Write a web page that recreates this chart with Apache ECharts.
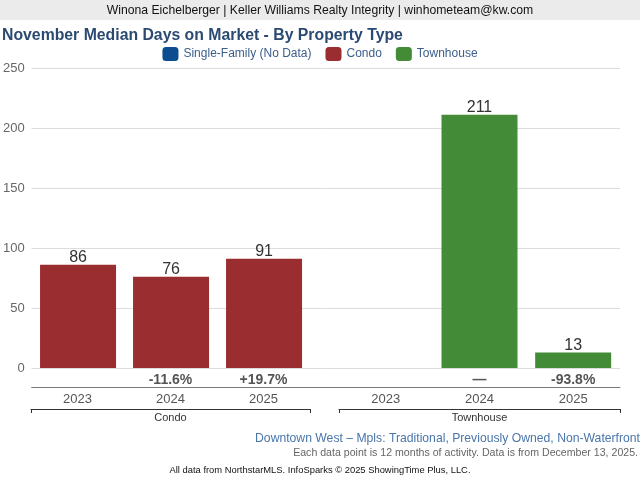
<!DOCTYPE html>
<html>
<head>
<meta charset="utf-8">
<script src="https://cdn.jsdelivr.net/npm/echarts@6/dist/echarts.min.js"></script>
<style>
html,body{margin:0;padding:0;background:#fff;}
#c{width:640px;height:480px;}
</style>
</head>
<body>
<div id="c"></div>
<script>
var years = ['2023', '2024', '2025'];
var condoValues = [86, 76, 91];
var townhouseValues = [null, 211, 13];
var condoPct = ['', '-11.6%', '+19.7%'];
var townhousePct = ['', '\u2014', '-93.8%'];
var yTicks = { min: 0, max: 250, interval: 50 };

var FONT = '"Liberation Sans", Arial, Helvetica, sans-serif';
var chart = echarts.init(document.getElementById('c'), null, { renderer: 'canvas' });

var valueLabel = { show: true, position: 'top', distance: -1, fontSize: 16, color: '#333', fontFamily: FONT };

var option = {
  animation: false,
  backgroundColor: '#fff',
  textStyle: { fontFamily: FONT },
  graphic: [
    { type: 'rect', shape: { x: 0, y: 0, width: 640, height: 20 }, style: { fill: '#ebebeb' }, z: 0 }
  ],
  title: [
    { text: 'Winona Eichelberger | Keller Williams Realty Integrity | winhometeam@kw.com', left: 'center', top: 5, padding: 0,
      textStyle: { fontSize: 12.2, fontWeight: 'normal', color: '#111', fontFamily: FONT } },
    { text: 'November Median Days on Market - By Property Type', left: 2, top: 28, padding: 0,
      textStyle: { fontSize: 15.8, fontWeight: 'bold', color: '#2b4a72', fontFamily: FONT } },
    { text: 'Downtown West \u2013 Mpls: Traditional, Previously Owned, Non-Waterfront', right: 0, top: 433, padding: 0,
      textStyle: { fontSize: 12.2, fontWeight: 'normal', color: '#4a76ab', fontFamily: FONT } },
    { text: 'Each data point is 12 months of activity. Data is from December 13, 2025.', right: 2, top: 448, padding: 0,
      textStyle: { fontSize: 10.6, fontWeight: 'normal', color: '#666', fontFamily: FONT } },
    { text: 'All data from NorthstarMLS. InfoSparks \u00a9 2025 ShowingTime Plus, LLC.', left: 'center', top: 466, padding: 0,
      textStyle: { fontSize: 9.4, fontWeight: 'normal', color: '#111', fontFamily: FONT } }
  ],
  legend: {
    top: 47, left: 'center', padding: 0,
    itemWidth: 16, itemHeight: 14, itemGap: 14,
    icon: 'roundRect',
    textStyle: { fontSize: 12, color: '#3b5e8c', fontFamily: FONT },
    data: ['Single-Family (No Data)', 'Condo', 'Townhouse']
  },
  grid: [
    { left: 31, right: 20, top: 68, bottom: 112 },
    { left: 31, width: 279, top: 68, bottom: 112 },
    { left: 339, width: 281, top: 68, bottom: 112 }
  ],
  yAxis: [
    { gridIndex: 0, type: 'value', min: yTicks.min, max: yTicks.max, interval: yTicks.interval,
      axisLine: { show: false }, axisTick: { show: false },
      axisLabel: { color: '#666', fontSize: 13, margin: 7, fontFamily: FONT },
      splitLine: { lineStyle: { color: '#dcdcdc', width: 1 } } },
    { gridIndex: 1, type: 'value', min: yTicks.min, max: yTicks.max, interval: yTicks.interval, show: false },
    { gridIndex: 2, type: 'value', min: yTicks.min, max: yTicks.max, interval: yTicks.interval, show: false }
  ],
  xAxis: [
    { gridIndex: 0, type: 'value', min: 0, max: 1, position: 'bottom', offset: 19,
      axisLine: { show: true, onZero: false, lineStyle: { color: '#777', width: 1 } },
      axisTick: { show: false }, axisLabel: { show: false }, splitLine: { show: false } },
    // grid 1: condo percent labels
    { gridIndex: 1, type: 'category', data: years, position: 'bottom', offset: 0,
      axisLine: { show: false, onZero: false }, axisTick: { show: false },
      axisLabel: { margin: 5, fontSize: 14, fontWeight: 'bold', color: '#555', fontFamily: FONT,
        formatter: function (v, i) { return condoPct[i]; } } },
    { gridIndex: 1, type: 'category', data: years, position: 'bottom', offset: 19,
      axisLine: { show: false, onZero: false }, axisTick: { show: false },
      axisLabel: { margin: 6, fontSize: 13, color: '#555', fontFamily: FONT } },
    { gridIndex: 1, type: 'category', data: ['Condo'], position: 'bottom', offset: 41,
      axisLine: { show: true, onZero: false, lineStyle: { color: '#333', width: 1 } },
      axisTick: { show: true, length: 4, lineStyle: { color: '#333' } },
      axisLabel: { margin: 3, fontSize: 11, color: '#333', fontFamily: FONT } },
    // grid 2: townhouse
    { gridIndex: 2, type: 'category', data: years, position: 'bottom', offset: 0,
      axisLine: { show: false, onZero: false }, axisTick: { show: false },
      axisLabel: { margin: 5, fontSize: 14, fontWeight: 'bold', color: '#555', fontFamily: FONT,
        formatter: function (v, i) { return townhousePct[i]; } } },
    { gridIndex: 2, type: 'category', data: years, position: 'bottom', offset: 19,
      axisLine: { show: false, onZero: false }, axisTick: { show: false },
      axisLabel: { margin: 6, fontSize: 13, color: '#555', fontFamily: FONT } },
    { gridIndex: 2, type: 'category', data: ['Townhouse'], position: 'bottom', offset: 41,
      axisLine: { show: true, onZero: false, lineStyle: { color: '#333', width: 1 } },
      axisTick: { show: true, length: 4, lineStyle: { color: '#333' } },
      axisLabel: { margin: 3, fontSize: 11, color: '#333', fontFamily: FONT } }
  ],
  series: [
    { name: 'Single-Family (No Data)', type: 'bar', xAxisIndex: 1, yAxisIndex: 1, data: [],
      itemStyle: { color: '#0c4d90' } },
    { name: 'Condo', type: 'bar', xAxisIndex: 1, yAxisIndex: 1, data: condoValues, barWidth: 76,
      itemStyle: { color: '#992d2f' }, label: valueLabel },
    { name: 'Townhouse', type: 'bar', xAxisIndex: 4, yAxisIndex: 2, data: townhouseValues, barWidth: 76,
      itemStyle: { color: '#438b37' }, label: valueLabel }
  ]
};
chart.setOption(option);
</script>
</body>
</html>
